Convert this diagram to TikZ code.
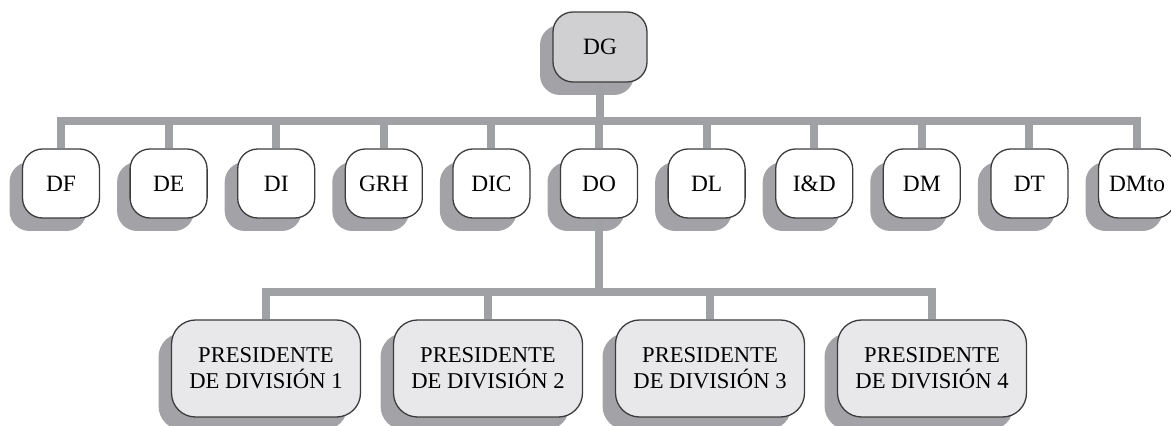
\documentclass[tikz,border=0pt]{standalone}
\usepackage{fontspec}
\setmainfont{Liberation Serif}
\usetikzlibrary{shadows}

\definecolor{lineagris}{RGB}{160,161,165}
\definecolor{sombragris}{RGB}{163,163,167}
\definecolor{rellenodg}{RGB}{208,208,210}
\definecolor{rellenodiv}{RGB}{232,232,234}
\definecolor{borde}{RGB}{60,60,60}

\tikzset{
  caja/.style={draw=borde, line width=0.65pt, align=center, inner sep=1pt,
    font=\fontsize{11.7}{13}\selectfont,
    drop shadow={shadow xshift=-6.5pt, shadow yshift=-6.5pt, fill=sombragris, opacity=1}},
  cajadg/.style={caja, fill=rellenodg, rounded corners=10pt,
    minimum width=47pt, minimum height=35pt},
  cajadir/.style={caja, fill=white, rounded corners=10pt,
    minimum width=38.5pt, minimum height=34.5pt},
  cajadiv/.style={caja, fill=rellenodiv, rounded corners=12pt,
    minimum width=94.5pt, minimum height=48.5pt,
    font=\fontsize{11.3}{13}\selectfont},
  bus/.style={draw=lineagris, line width=4pt}
}

\begin{document}
\begin{tikzpicture}[x=0.5pt, y=-0.5pt]
\useasboundingbox (0,0) rectangle (1171,426);

% Dirección general
\node[cajadg] (dg) at (600,47) {DG};

% Direcciones
\foreach \nom [count=\i] in {DF,DE,DI,GRH,DIC,DO,DL,I\&D,DM,DT,DMto}
  \node[cajadir] (d\i) at ({61+107.6*(\i-1)},183.5) {\nom};

% Presidentes de división
\foreach \i in {1,...,4}
  \node[cajadiv] (p\i) at ({266+222*(\i-1)},368.5) {PRESIDENTE\\DE DIVISIÓN \i};

% Líneas de mando
\coordinate (barra1) at (600,121);
\coordinate (barra2) at (599,292);

\draw[bus] (d1.north) |- (barra1) -| (d11.north);
\foreach \i in {2,...,10}
  \draw[bus] (d\i.north) -- (d\i.north |- barra1);
\draw[bus] (dg.south) -- (barra1);

\draw[bus] (p1.north) |- (barra2) -| (p4.north);
\foreach \i in {2,3}
  \draw[bus] (p\i.north) -- (p\i.north |- barra2);
\draw[bus] (d6.south) -- (barra2);

\end{tikzpicture}
\end{document}
